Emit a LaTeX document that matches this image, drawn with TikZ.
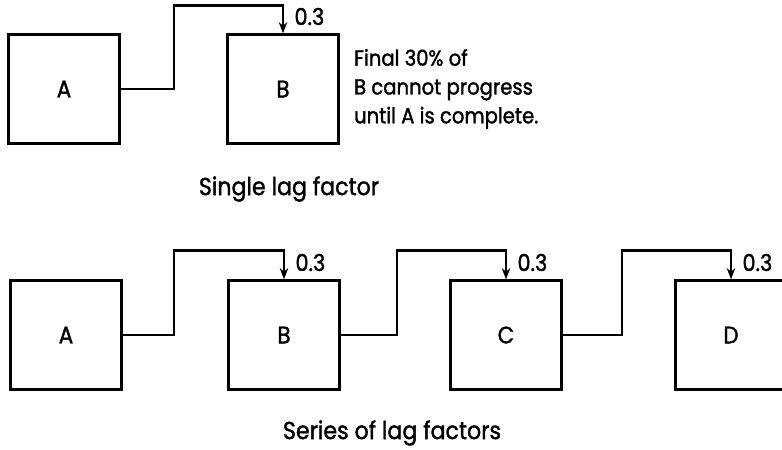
\documentclass[tikz,border=0pt]{standalone}
\usepackage{fontspec}
\setmainfont{Poppins}[FakeStretch=0.9,FakeBold=1.4]
\usetikzlibrary{arrows.meta,positioning}

\begin{document}
\begin{tikzpicture}[x=0.025cm, y=-0.025cm,
  act/.style={rectangle, draw, line width=1.7pt,
              minimum width=2.78cm, minimum height=2.72cm,
              inner sep=0pt, font=\fontsize{17}{20}\selectfont},
  lag/.style={-{Stealth[length=8pt,width=6pt]}, line width=1.7pt},
  frac/.style={inner sep=0pt, font=\fontsize{16.5}{18}\selectfont},
  note/.style={inner sep=0pt, align=left, font=\fontsize{15.5}{20.5}\selectfont},
  captext/.style={inner sep=0pt, font=\fontsize{17.5}{20}\selectfont}
]
  \useasboundingbox (0,0) rectangle (782,449);
  \clip (0,0) rectangle (782,449);

  % single lag factor
  \node[act] (A1) at (64,89) {A};
  \node[act] (B1) at (283,89) {B};
  \draw[lag] (A1.east) -- ++(53,0) |- ([yshift=7mm]B1.north) -- (B1.north);
  \node[frac, above right=2mm and 2.8mm of B1.north] (f1) {0.3};
  \node[note, right=3.5mm of B1] (remark)
    {Final 30\% of\\B cannot progress\\until A is complete.};
  \node[captext] (cap1) at (289,189) {Single lag factor};

  % series of lag factors
  \node[act] (A2) at (66,335) {A};
  \node[act] (B2) at (284,335) {B};
  \node[act] (C2) at (506,335) {C};
  \node[act] (D2) at (731,335) {D};
  \foreach \from/\to/\dx in {A2/B2/51, B2/C2/56, C2/D2/59}{
    \draw[lag] (\from.east) -- ++(\dx,0) |- ([yshift=7.25mm]\to.north) -- (\to.north);
    \node[frac, above right=2mm and 2.8mm of \to.north] (f\to) {0.3};
  }
  \node[captext] (cap2) at (392,433) {Series of lag factors};
\end{tikzpicture}
\end{document}
